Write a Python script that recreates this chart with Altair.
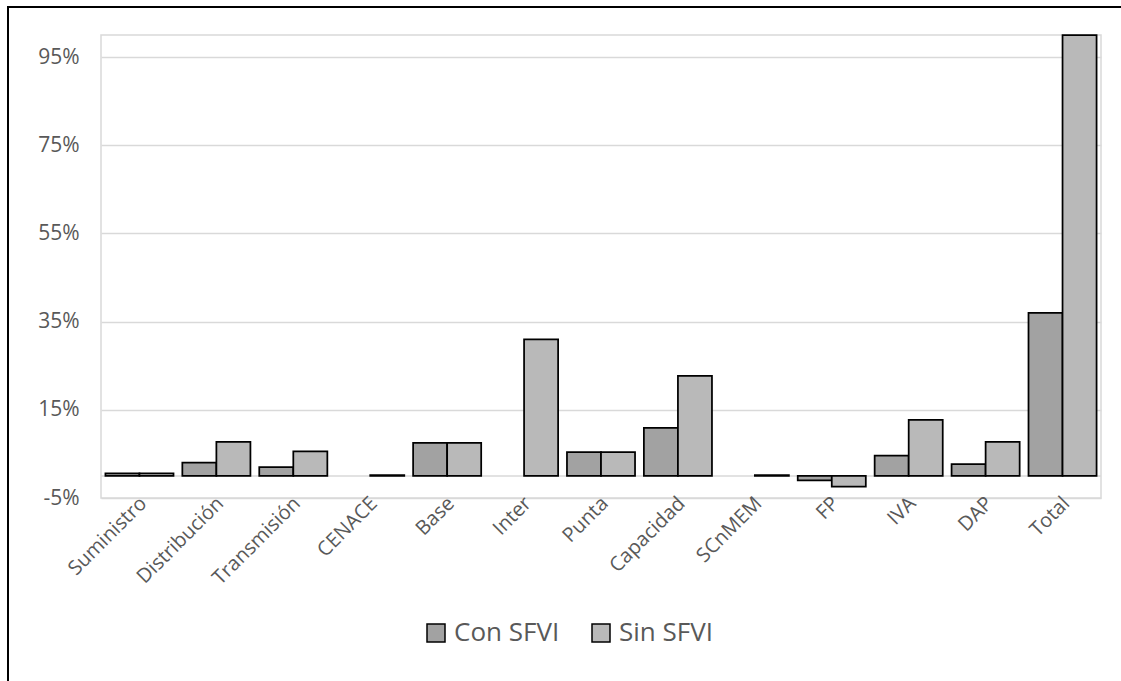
import altair as alt
import pandas as pd

categories = ["Suministro", "Distribución", "Transmisión", "CENACE", "Base", "Inter",
              "Punta", "Capacidad", "SCnMEM", "FP", "IVA", "DAP", "Total"]
series_names = ["Con SFVI", "Sin SFVI"]
con_sfvi = [0.6, 3.0, 2.0, 0.0, 7.5, 0.0, 5.4, 10.9, 0.0, -1.0, 4.6, 2.7, 37.0]
sin_sfvi = [0.6, 7.7, 5.6, 0.2, 7.5, 31.0, 5.4, 22.7, 0.2, -2.4, 12.7, 7.7, 100.0]
y_ticks = [-5, 15, 35, 55, 75, 95]

rows = []
for i, c in enumerate(categories):
    rows.append({"cat": c, "serie": series_names[0], "value": con_sfvi[i]})
    rows.append({"cat": c, "serie": series_names[1], "value": sin_sfvi[i]})
df = pd.DataFrame(rows)

W, H = 1000, 463
PL, PT = 101, 35
TOTAL_W, TOTAL_H = 1121, 681

label_color = "#595959"
grid_color = "#d9d9d9"
font = "Open Sans"

x_enc = alt.X("cat:N", sort=categories,
              scale=alt.Scale(paddingInner=0.115, paddingOuter=0.0575),
              axis=alt.Axis(title=None, labelAngle=-45, labelAlign="right",
                            labelBaseline="middle", labelPadding=2, labelOffset=4,
                            domain=False, ticks=False, grid=False,
                            labelFontSize=20, labelColor=label_color, labelFont=font))
y_scale = alt.Scale(domain=[-5, 100], nice=False)

bars = alt.Chart(df).transform_filter("datum.value != 0").mark_bar(
    stroke="black", strokeWidth=1.75
).encode(
    x=x_enc,
    xOffset=alt.XOffset("serie:N", sort=series_names,
                        scale=alt.Scale(paddingInner=0, paddingOuter=0)),
    y=alt.Y("value:Q", scale=y_scale,
            axis=alt.Axis(title=None, values=y_ticks, labelExpr="datum.value + '%'",
                          domain=False, ticks=False, grid=True, gridColor=grid_color,
                          gridWidth=1.5, labelFontSize=21, labelColor=label_color,
                          labelFont=font, labelPadding=22)),
    fill=alt.Fill("serie:N", sort=series_names,
                  scale=alt.Scale(domain=series_names, range=["#a2a2a2", "#b9b9b9"]),
                  legend=alt.Legend(orient="none", legendX=322, legendY=585,
                                    direction="horizontal", title=None,
                                    symbolType="square", symbolSize=324,
                                    symbolStrokeColor="black", symbolStrokeWidth=1.5,
                                    labelFontSize=26, labelColor=label_color,
                                    labelFont=font, labelOffset=5, columnPadding=28,
                                    padding=0)),
)

zero = alt.Chart(pd.DataFrame({"z": [0]})).mark_rule(
    color=grid_color, strokeWidth=1.5
).encode(y=alt.Y("z:Q", scale=y_scale))

frame_df = pd.DataFrame({"k": [0]})
left_line = alt.Chart(frame_df).mark_rule(color="black", strokeWidth=2).encode(
    x=alt.value(8 - PL), y=alt.value(6 - PT), y2=alt.value(TOTAL_H - PT)
)
top_line = alt.Chart(frame_df).mark_rule(color="black", strokeWidth=2).encode(
    x=alt.value(7 - PL), x2=alt.value(TOTAL_W - PL), y=alt.value(7 - PT)
)

chart = alt.layer(zero, bars, left_line, top_line).properties(
    width=W, height=H,
    autosize=alt.AutoSizeParams(type="none"),
    padding={"left": PL, "top": PT, "right": TOTAL_W - PL - W, "bottom": TOTAL_H - PT - H},
    background="white",
).configure_view(stroke=grid_color, strokeWidth=1.5)

chart.save("out.html", embed_options={"renderer": "svg", "actions": False})
